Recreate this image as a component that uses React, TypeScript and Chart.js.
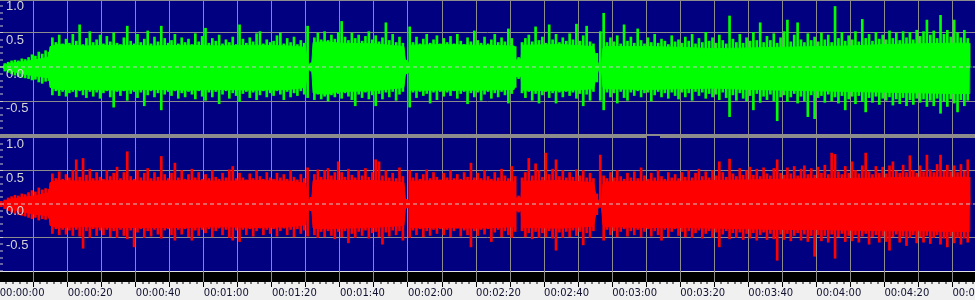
import React, { useEffect, useRef } from 'react';
import { Chart, registerables } from 'chart.js';

Chart.register(...registerables);

// ---------- tick labels ----------
const timeLabels = [
  '00:00:00', '00:00:20', '00:00:40', '00:01:00', '00:01:20', '00:01:40', '00:02:00', '00:02:20',
  '00:02:40', '00:03:00', '00:03:20', '00:03:40', '00:04:00', '00:04:20', '00:04:40',
];
const ampLabels = ['1.0', '0.5', '0.0', '-0.5'];
const ampLabelValues = [1, 0.5, 0, -0.5];

// ---------- dense body of the waveform (seconds, amplitude) ----------
const coreTimes = [
  0.9, 1.5, 4, 7, 10, 13, 14.5, 14.8, 17, 25, 35, 45, 55, 65, 75, 85, 89.9, 90.5, 91.7, 92.1,
  96, 100, 110, 118.8, 119.3, 120.4, 120.8, 130, 140, 151.2, 151.7, 153.2, 153.6, 165, 174.5, 175.2,
  176, 176.8, 177.3, 178, 190, 200, 210, 220, 230, 240, 250, 260, 270, 280, 284.9, 285.1,
];
const greenCoreHi = [
  0, 0.04, 0.06, 0.08, 0.1, 0.13, 0.15, 0.3, 0.33, 0.31, 0.32, 0.31, 0.32, 0.31, 0.32, 0.31, 0.29, 0.04, 0.04, 0.36,
  0.37, 0.35, 0.34, 0.3, 0.07, 0.07, 0.32, 0.33, 0.32, 0.31, 0.1, 0.12, 0.32, 0.33, 0.3, 0.16,
  0.04, 0.02, 0.28, 0.3, 0.3, 0.29, 0.27, 0.28, 0.29, 0.3, 0.31, 0.33, 0.34, 0.35, 0.35, 0,
];
const greenCoreLo = [
  0, -0.04, -0.07, -0.1, -0.13, -0.15, -0.16, -0.3, -0.33, -0.33, -0.34, -0.33, -0.34, -0.33, -0.34, -0.33, -0.3, -0.04, -0.04, -0.38,
  -0.4, -0.36, -0.35, -0.3, -0.08, -0.08, -0.34, -0.34, -0.34, -0.33, -0.14, -0.14, -0.34, -0.35, -0.32, -0.18,
  -0.04, -0.02, -0.3, -0.32, -0.33, -0.32, -0.31, -0.33, -0.34, -0.35, -0.36, -0.37, -0.38, -0.39, -0.39, 0,
];
const redCoreHi = [
  0, 0.05, 0.08, 0.1, 0.12, 0.15, 0.17, 0.32, 0.35, 0.34, 0.35, 0.34, 0.35, 0.34, 0.35, 0.34, 0.31, 0.07, 0.07, 0.35,
  0.36, 0.35, 0.35, 0.32, 0.05, 0.05, 0.34, 0.35, 0.35, 0.33, 0.09, 0.09, 0.34, 0.35, 0.32, 0.14,
  0.04, 0.02, 0.3, 0.33, 0.34, 0.34, 0.35, 0.36, 0.37, 0.38, 0.38, 0.39, 0.4, 0.4, 0.4, 0,
];
const redCoreLo = [
  0, -0.05, -0.09, -0.12, -0.15, -0.17, -0.18, -0.32, -0.35, -0.34, -0.35, -0.35, -0.35, -0.34, -0.35, -0.34, -0.31, -0.08, -0.08, -0.36,
  -0.37, -0.36, -0.35, -0.32, -0.05, -0.05, -0.35, -0.35, -0.36, -0.34, -0.1, -0.1, -0.35, -0.36, -0.33, -0.15,
  -0.04, -0.02, -0.31, -0.34, -0.35, -0.35, -0.36, -0.37, -0.38, -0.38, -0.39, -0.4, -0.4, -0.41, -0.41, 0,
];

// ---------- peaks, one per second ----------
const greenPeakHi = [
  0, 0.05, 0.07, 0.09, 0.1, 0.09, 0.12, 0.11, 0.14, 0.18,
  0.16, 0.22, 0.19, 0.24, 0.22, 0.43, 0.36, 0.47, 0.34, 0.41,
  0.35, 0.48, 0.38, 0.62, 0.33, 0.42, 0.52, 0.36, 0.4, 0.47,
  0.34, 0.45, 0.37, 0.5, 0.35, 0.33, 0.43, 0.6, 0.38, 0.34,
  0.48, 0.36, 0.41, 0.53, 0.34, 0.44, 0.37, 0.6, 0.42, 0.35,
  0.39, 0.48, 0.34, 0.43, 0.36, 0.41, 0.33, 0.49, 0.37, 0.45,
  0.57, 0.35, 0.42, 0.38, 0.47, 0.34, 0.4, 0.36, 0.44, 0.33,
  0.62, 0.41, 0.35, 0.43, 0.37, 0.49, 0.52, 0.34, 0.4, 0.36,
  0.38, 0.46, 0.5, 0.34, 0.42, 0.36, 0.44, 0.33, 0.39, 0.35,
  0.6, 0.06, 0.43, 0.5, 0.4, 0.52, 0.39, 0.47, 0.41, 0.51,
  0.67, 0.44, 0.39, 0.5, 0.42, 0.47, 0.38, 0.45, 0.52, 0.4,
  0.46, 0.37, 0.43, 0.65, 0.39, 0.48, 0.36, 0.44, 0.35, 0.1,
  0.59, 0.36, 0.44, 0.34, 0.41, 0.48, 0.35, 0.4, 0.46, 0.34,
  0.42, 0.36, 0.45, 0.34, 0.48, 0.38, 0.33, 0.43, 0.37, 0.53,
  0.39, 0.35, 0.44, 0.34, 0.4, 0.48, 0.36, 0.43, 0.37, 0.56,
  0.42, 0.3, 0.14, 0.36, 0.42, 0.47, 0.37, 0.59, 0.39, 0.44,
  0.35, 0.62, 0.4, 0.48, 0.36, 0.43, 0.38, 0.49, 0.4, 0.63,
  0.38, 0.46, 0.6, 0.37, 0.34, 0.2, 0.52, 0.79, 0.36, 0.43,
  0.37, 0.46, 0.34, 0.62, 0.38, 0.44, 0.35, 0.56, 0.39, 0.34,
  0.43, 0.36, 0.48, 0.35, 0.41, 0.38, 0.33, 0.46, 0.37, 0.4,
  0.35, 0.44, 0.38, 0.48, 0.34, 0.42, 0.36, 0.51, 0.38, 0.43,
  0.35, 0.47, 0.39, 0.34, 0.75, 0.41, 0.36, 0.48, 0.35, 0.43,
  0.38, 0.51, 0.39, 0.65, 0.36, 0.45, 0.39, 0.49, 0.35, 0.43,
  0.52, 0.69, 0.37, 0.47, 0.65, 0.4, 0.36, 0.49, 0.39, 0.44,
  0.37, 0.5, 0.4, 0.47, 0.36, 0.89, 0.42, 0.51, 0.38, 0.46,
  0.4, 0.52, 0.37, 0.7, 0.42, 0.48, 0.38, 0.51, 0.41, 0.47,
  0.4, 0.53, 0.42, 0.5, 0.39, 0.52, 0.43, 0.51, 0.4, 0.54,
  0.45, 0.52, 0.69, 0.47, 0.53, 0.42, 0.76, 0.48, 0.54, 0.44,
  0.69, 0.5, 0.43, 0.54, 0.42, 0,
];
const greenPeakLo = [
  0, -0.06, -0.08, -0.1, -0.12, -0.14, -0.15, -0.16, -0.17, -0.19,
  -0.18, -0.22, -0.24, -0.21, -0.2, -0.41, -0.35, -0.42, -0.36, -0.43,
  -0.38, -0.36, -0.44, -0.35, -0.41, -0.45, -0.36, -0.43, -0.37, -0.46,
  -0.38, -0.35, -0.44, -0.59, -0.36, -0.42, -0.35, -0.49, -0.39, -0.36,
  -0.45, -0.37, -0.57, -0.41, -0.35, -0.44, -0.38, -0.63, -0.4, -0.36,
  -0.42, -0.35, -0.46, -0.38, -0.44, -0.36, -0.4, -0.47, -0.35, -0.43,
  -0.49, -0.37, -0.44, -0.36, -0.54, -0.4, -0.35, -0.46, -0.38, -0.42,
  -0.51, -0.39, -0.36, -0.45, -0.37, -0.48, -0.41, -0.35, -0.44, -0.38,
  -0.42, -0.35, -0.4, -0.48, -0.36, -0.44, -0.38, -0.42, -0.35, -0.4,
  -0.45, -0.06, -0.48, -0.4, -0.47, -0.43, -0.5, -0.41, -0.44, -0.39,
  -0.46, -0.38, -0.43, -0.48, -0.57, -0.4, -0.45, -0.37, -0.47, -0.41,
  -0.57, -0.39, -0.47, -0.37, -0.44, -0.36, -0.49, -0.4, -0.36, -0.1,
  -0.59, -0.37, -0.45, -0.36, -0.42, -0.39, -0.53, -0.37, -0.48, -0.36,
  -0.43, -0.37, -0.42, -0.35, -0.46, -0.39, -0.36, -0.54, -0.38, -0.44,
  -0.37, -0.49, -0.4, -0.36, -0.46, -0.38, -0.44, -0.36, -0.41, -0.53,
  -0.39, -0.3, -0.17, -0.38, -0.45, -0.36, -0.49, -0.39, -0.53, -0.41,
  -0.36, -0.45, -0.38, -0.53, -0.37, -0.44, -0.36, -0.42, -0.37, -0.46,
  -0.39, -0.57, -0.4, -0.49, -0.36, -0.22, -0.49, -0.63, -0.37, -0.44,
  -0.38, -0.53, -0.36, -0.45, -0.49, -0.37, -0.42, -0.35, -0.44, -0.38,
  -0.37, -0.5, -0.41, -0.36, -0.44, -0.38, -0.46, -0.37, -0.42, -0.47,
  -0.37, -0.44, -0.38, -0.49, -0.36, -0.42, -0.37, -0.46, -0.39, -0.44,
  -0.4, -0.48, -0.37, -0.45, -0.73, -0.41, -0.49, -0.38, -0.46, -0.5,
  -0.42, -0.63, -0.39, -0.52, -0.43, -0.48, -0.4, -0.5, -0.79, -0.44,
  -0.41, -0.51, -0.44, -0.39, -0.53, -0.43, -0.5, -0.73, -0.41, -0.76,
  -0.45, -0.42, -0.52, -0.4, -0.5, -0.44, -0.53, -0.42, -0.63, -0.47,
  -0.43, -0.54, -0.42, -0.51, -0.66, -0.45, -0.52, -0.43, -0.55, -0.46,
  -0.49, -0.44, -0.56, -0.47, -0.54, -0.45, -0.57, -0.48, -0.55, -0.46,
  -0.52, -0.47, -0.58, -0.49, -0.57, -0.46, -0.68, -0.5, -0.58, -0.47,
  -0.53, -0.66, -0.48, -0.57, -0.49, 0,
];
const redPeakHi = [
  0.04, 0.06, 0.09, 0.11, 0.13, 0.12, 0.15, 0.14, 0.17, 0.2,
  0.18, 0.24, 0.21, 0.23, 0.22, 0.45, 0.38, 0.48, 0.37, 0.44,
  0.39, 0.5, 0.66, 0.4, 0.68, 0.43, 0.52, 0.38, 0.47, 0.4,
  0.37, 0.5, 0.41, 0.46, 0.55, 0.38, 0.47, 0.78, 0.41, 0.37,
  0.5, 0.39, 0.46, 0.53, 0.38, 0.47, 0.4, 0.71, 0.44, 0.38,
  0.46, 0.61, 0.39, 0.5, 0.37, 0.44, 0.52, 0.39, 0.47, 0.37,
  0.44, 0.38, 0.5, 0.4, 0.37, 0.46, 0.39, 0.51, 0.56, 0.38,
  0.46, 0.39, 0.36, 0.45, 0.38, 0.5, 0.41, 0.37, 0.47, 0.39,
  0.37, 0.46, 0.39, 0.44, 0.37, 0.5, 0.4, 0.36, 0.44, 0.38,
  0.54, 0.1, 0.44, 0.51, 0.4, 0.5, 0.53, 0.42, 0.47, 0.63,
  0.47, 0.4, 0.52, 0.43, 0.39, 0.5, 0.42, 0.53, 0.4, 0.47,
  0.66, 0.63, 0.42, 0.5, 0.39, 0.46, 0.38, 0.54, 0.41, 0.07,
  0.5, 0.39, 0.46, 0.37, 0.44, 0.51, 0.38, 0.47, 0.4, 0.36,
  0.46, 0.39, 0.5, 0.38, 0.44, 0.37, 0.47, 0.4, 0.61, 0.39,
  0.46, 0.38, 0.5, 0.41, 0.37, 0.47, 0.39, 0.52, 0.42, 0.38,
  0.56, 0.41, 0.12, 0.39, 0.47, 0.68, 0.42, 0.6, 0.5, 0.4,
  0.76, 0.44, 0.52, 0.66, 0.41, 0.5, 0.39, 0.47, 0.4, 0.51,
  0.42, 0.5, 0.39, 0.46, 0.38, 0.15, 0.73, 0.42, 0.38, 0.47,
  0.39, 0.5, 0.41, 0.37, 0.46, 0.39, 0.48, 0.38, 0.54, 0.42,
  0.37, 0.46, 0.39, 0.5, 0.41, 0.37, 0.47, 0.39, 0.44, 0.38,
  0.47, 0.4, 0.5, 0.39, 0.46, 0.52, 0.41, 0.48, 0.39, 0.5,
  0.42, 0.63, 0.47, 0.4, 0.67, 0.45, 0.41, 0.53, 0.43, 0.5,
  0.55, 0.43, 0.52, 0.41, 0.54, 0.45, 0.42, 0.53, 0.66, 0.46,
  0.43, 0.54, 0.45, 0.56, 0.42, 0.52, 0.57, 0.44, 0.53, 0.43,
  0.55, 0.46, 0.58, 0.44, 0.76, 0.74, 0.48, 0.44, 0.56, 0.46,
  0.63, 0.5, 0.45, 0.57, 0.76, 0.48, 0.44, 0.56, 0.46, 0.55,
  0.45, 0.57, 0.63, 0.49, 0.46, 0.58, 0.47, 0.72, 0.5, 0.46,
  0.57, 0.48, 0.73, 0.51, 0.47, 0.59, 0.73, 0.49, 0.58, 0.48,
  0.57, 0.47, 0.59, 0.49, 0.66, 0,
];
const redPeakLo = [
  -0.04, -0.07, -0.1, -0.12, -0.14, -0.16, -0.17, -0.18, -0.2, -0.22,
  -0.2, -0.24, -0.22, -0.23, -0.21, -0.44, -0.37, -0.46, -0.38, -0.45,
  -0.39, -0.47, -0.38, -0.48, -0.66, -0.4, -0.5, -0.37, -0.47, -0.39,
  -0.46, -0.38, -0.49, -0.4, -0.5, -0.38, -0.47, -0.52, -0.39, -0.64,
  -0.42, -0.37, -0.5, -0.4, -0.48, -0.38, -0.45, -0.51, -0.39, -0.37,
  -0.46, -0.54, -0.38, -0.45, -0.37, -0.49, -0.54, -0.39, -0.47, -0.38,
  -0.43, -0.37, -0.49, -0.4, -0.36, -0.46, -0.38, -0.5, -0.54, -0.39,
  -0.56, -0.38, -0.46, -0.37, -0.48, -0.4, -0.36, -0.46, -0.38, -0.44,
  -0.37, -0.48, -0.4, -0.36, -0.46, -0.38, -0.49, -0.37, -0.44, -0.39,
  -0.48, -0.1, -0.46, -0.5, -0.41, -0.49, -0.4, -0.47, -0.52, -0.41,
  -0.49, -0.4, -0.58, -0.44, -0.5, -0.41, -0.47, -0.39, -0.51, -0.43,
  -0.41, -0.49, -0.6, -0.42, -0.48, -0.39, -0.46, -0.4, -0.54, -0.06,
  -0.5, -0.39, -0.46, -0.37, -0.49, -0.4, -0.47, -0.38, -0.44, -0.37,
  -0.46, -0.38, -0.49, -0.4, -0.36, -0.48, -0.39, -0.46, -0.64, -0.4,
  -0.47, -0.38, -0.45, -0.37, -0.56, -0.42, -0.38, -0.49, -0.4, -0.46,
  -0.5, -0.41, -0.12, -0.4, -0.49, -0.43, -0.52, -0.41, -0.5, -0.43,
  -0.49, -0.4, -0.51, -0.69, -0.42, -0.5, -0.41, -0.49, -0.39, -0.47,
  -0.41, -0.61, -0.43, -0.5, -0.4, -0.16, -0.05, -0.54, -0.38, -0.46,
  -0.4, -0.49, -0.41, -0.37, -0.48, -0.4, -0.46, -0.38, -0.49, -0.41,
  -0.37, -0.48, -0.4, -0.46, -0.54, -0.38, -0.49, -0.41, -0.37, -0.47,
  -0.41, -0.49, -0.4, -0.5, -0.43, -0.39, -0.51, -0.44, -0.4, -0.5,
  -0.42, -0.64, -0.45, -0.4, -0.52, -0.43, -0.5, -0.42, -0.53, -0.44,
  -0.51, -0.43, -0.54, -0.46, -0.42, -0.53, -0.44, -0.52, -0.84, -0.45,
  -0.53, -0.44, -0.55, -0.47, -0.43, -0.54, -0.45, -0.56, -0.47, -0.78,
  -0.46, -0.55, -0.47, -0.57, -0.45, -0.81, -0.49, -0.44, -0.56, -0.47,
  -0.55, -0.46, -0.57, -0.48, -0.44, -0.6, -0.49, -0.46, -0.57, -0.48,
  -0.56, -0.69, -0.49, -0.45, -0.57, -0.48, -0.62, -0.5, -0.46, -0.58,
  -0.49, -0.57, -0.47, -0.59, -0.5, -0.46, -0.6, -0.51, -0.64, -0.48,
  -0.58, -0.5, -0.6, -0.51, -0.57, 0,
];

// ---------- styling ----------
const NAVY = '#000080';
const GRID = '#8c8c8c';
const GREEN = '#00ff00';
const RED = '#ff0000';
const X_MIN = 0.1;
const X_MAX = 286.63;

function timeTicks() {
  const t: { value: number }[] = [];
  for (let v = 0; v <= 286; v += 2) t.push({ value: v });
  return t;
}
function ampTicks() {
  const t: { value: number }[] = [];
  for (let k = -10; k <= 10; k++) t.push({ value: k / 10 });
  return t;
}
function zeroPad(s: any) {
  s.paddingTop = 0; s.paddingBottom = 0; s.paddingLeft = 0; s.paddingRight = 0;
}

function waveDatasets(color: string, peakHi: number[], peakLo: number[], coreHi: number[], coreLo: number[]) {
  return [
    {
      type: 'line', data: [{ x: X_MIN, y: 0 }, { x: X_MAX, y: 0 }],
      borderColor: '#c8c8c8', borderWidth: 1, borderDash: [4, 3], pointRadius: 0, fill: false, order: 0,
    },
    {
      type: 'bar', data: peakHi.map((h, i) => ({ x: i + 0.5, y: [peakLo[i], h] })),
      backgroundColor: color, borderWidth: 0, barThickness: 2, grouped: false, order: 1,
    },
    {
      type: 'line', data: coreTimes.map((t, i) => ({ x: t, y: coreHi[i] })),
      borderColor: color, backgroundColor: color, borderWidth: 1, pointRadius: 0, fill: '+1', order: 2,
    },
    {
      type: 'line', data: coreTimes.map((t, i) => ({ x: t, y: coreLo[i] })),
      borderColor: color, borderWidth: 1, pointRadius: 0, fill: false, order: 3,
    },
  ];
}

function xScale(withRuler: boolean) {
  return {
    type: 'linear', min: X_MIN, max: X_MAX, offset: false, position: 'bottom',
    afterBuildTicks: (s: any) => { s.ticks = timeTicks(); },
    afterFit: (s: any) => { s.height = withRuler ? 18 : 0; zeroPad(s); },
    border: { display: false },
    grid: {
      offset: false, drawOnChartArea: true, color: GRID,
      lineWidth: (c: any) => (c.tick && c.tick.value % 10 === 0 ? 1 : 0),
      drawTicks: withRuler, tickLength: 5, tickWidth: 1, tickColor: '#000000',
      tickBorderDash: (c: any) => (c.tick && c.tick.value % 10 === 0 ? [] : [2, 20]),
    },
    ticks: {
      display: withRuler, autoSkip: false, maxRotation: 0, minRotation: 0, align: 'start', padding: 0,
      color: '#101030', font: { family: 'DejaVu Sans', size: 10 },
      callback: (v: number) => (v % 20 === 0 ? timeLabels[v / 20] : ''),
    },
  };
}

function yScale(min: number, max: number) {
  return {
    type: 'linear', min, max, position: 'left',
    afterBuildTicks: (s: any) => { s.ticks = ampTicks(); },
    afterFit: (s: any) => { s.width = 0; zeroPad(s); },
    border: { display: false },
    grid: {
      color: GRID,
      lineWidth: (c: any) => (c.tick && Math.abs(Math.abs(c.tick.value) - 0.5) < 1e-6 ? 1 : 0),
      drawTicks: true, tickLength: -3, tickWidth: 1, tickColor: '#c8c8c8',
    },
    ticks: {
      mirror: true, padding: 6, labelOffset: 7.5, z: 1, autoSkip: false,
      color: '#d4d4d4', font: { family: "'Liberation Sans Narrow', 'Liberation Sans', sans-serif", size: 13 },
      callback: (v: number) => {
        const i = ampLabelValues.findIndex((a) => Math.abs(a - v) < 1e-6);
        return i >= 0 ? ampLabels[i] : '';
      },
    },
  };
}

const topBg = {
  id: 'topBg',
  beforeDraw(chart: any) {
    const { ctx, chartArea: a } = chart;
    ctx.save();
    ctx.fillStyle = NAVY;
    ctx.fillRect(a.left, a.top, a.right - a.left, a.bottom - a.top);
    ctx.fillStyle = GRID;
    ctx.fillRect(a.left, a.top, a.right - a.left, 1);
    ctx.restore();
  },
};
const botBg = {
  id: 'botBg',
  beforeDraw(chart: any) {
    const { ctx, chartArea: a, scales } = chart;
    const yEnd = Math.round(scales.y.getPixelForValue(-1.0));
    const w = a.right - a.left;
    ctx.save();
    ctx.fillStyle = NAVY;
    ctx.fillRect(a.left, a.top, w, yEnd - a.top);
    ctx.fillStyle = '#e4e4e4';
    ctx.fillRect(a.left, yEnd, w, 1);
    ctx.fillStyle = '#000000';
    ctx.fillRect(a.left, yEnd + 1, w, a.bottom - yEnd - 1);
    ctx.fillStyle = '#f0f0f0';
    ctx.fillRect(0, a.bottom, chart.width, chart.height - a.bottom);
    ctx.restore();
  },
};

function makeChart(canvas: HTMLCanvasElement, datasets: any[], yMin: number, yMax: number, ruler: boolean, bg: any) {
  return new Chart(canvas, {
    type: 'bar',
    data: { datasets } as any,
    options: {
      animation: false, responsive: false, maintainAspectRatio: false, events: [],
      layout: { padding: 0 },
      plugins: { legend: { display: false }, tooltip: { enabled: false }, title: { display: false } },
      scales: { x: xScale(ruler) as any, y: yScale(yMin, yMax) as any },
    } as any,
    plugins: [bg],
  });
}

export default function App() {
  const topRef = useRef<HTMLCanvasElement>(null);
  const botRef = useRef<HTMLCanvasElement>(null);
  useEffect(() => {
    const top = makeChart(topRef.current!, waveDatasets(GREEN, greenPeakHi, greenPeakLo, greenCoreHi, greenCoreLo), -0.985, 0.985, false, topBg);
    const bot = makeChart(botRef.current!, waveDatasets(RED, redPeakHi, redPeakLo, redCoreHi, redCoreLo), -1.164, 0.985, true, botBg);
    return () => { top.destroy(); bot.destroy(); };
  }, []);
  return (
    <div style={{ position: 'fixed', left: 0, top: 0, width: 975, height: 300, background: '#f0f0f0', overflow: 'hidden' }}>
      <canvas ref={topRef} width={975} height={134} style={{ position: 'absolute', left: 0, top: 0, display: 'block' }} />
      <div style={{ position: 'absolute', left: 0, top: 134, width: 975, height: 4, background: GRID }} />
      <div style={{ position: 'absolute', left: 647, top: 136, width: 13, height: 2, background: NAVY }} />
      <canvas ref={botRef} width={975} height={162} style={{ position: 'absolute', left: 0, top: 138, display: 'block' }} />
    </div>
  );
}
